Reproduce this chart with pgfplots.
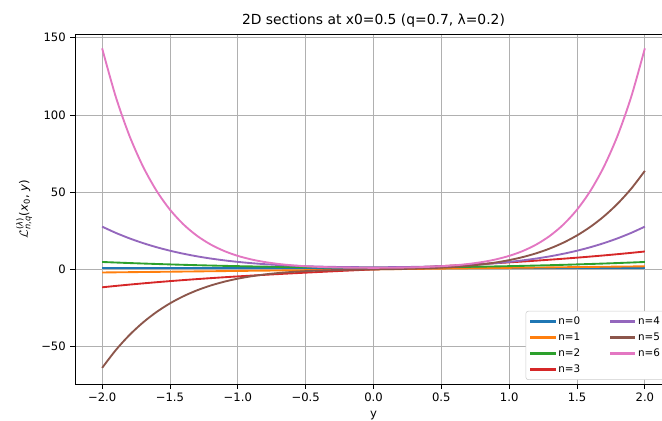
\documentclass[border=0pt]{standalone}
\usepackage{fontspec}
\setmainfont{DejaVu Sans}
\usepackage{pgfplots}
\usepackage{pgfplotstable}
\pgfplotsset{compat=1.18}
\definecolor{tabblue}{HTML}{1F77B4}
\definecolor{taborange}{HTML}{FF7F0E}
\definecolor{tabgreen}{HTML}{2CA02C}
\definecolor{tabred}{HTML}{D62728}
\definecolor{tabpurple}{HTML}{9467BD}
\definecolor{tabbrown}{HTML}{8C564B}
\definecolor{tabpink}{HTML}{E377C2}
\pgfplotstableread{
y p0 p1 p2 p3 p4 p5 p6
-2.0 1 -2.0 4.800 -11.600 27.692 -63.784 143.119
-1.9 1 -1.9 4.449 -10.709 23.664 -52.320 111.886
-1.8 1 -1.8 4.116 -9.865 20.136 -42.621 86.800
-1.7 1 -1.7 3.801 -9.067 17.060 -34.465 66.815
-1.6 1 -1.6 3.504 -8.312 14.393 -27.650 51.027
-1.5 1 -1.5 3.225 -7.598 12.094 -21.995 38.666
-1.4 1 -1.4 2.964 -6.920 10.125 -17.337 29.077
-1.3 1 -1.3 2.721 -6.279 8.448 -13.530 21.711
-1.2 1 -1.2 2.496 -5.670 7.031 -10.445 16.109
-1.1 1 -1.1 2.289 -5.091 5.842 -7.969 11.891
-1.0 1 -1.0 2.100 -4.540 4.853 -6.002 8.749
-0.9 1 -0.9 1.929 -4.014 4.037 -4.456 6.433
-0.8 1 -0.8 1.776 -3.511 3.370 -3.257 4.743
-0.7 1 -0.7 1.641 -3.028 2.832 -2.338 3.523
-0.6 1 -0.6 1.524 -2.563 2.403 -1.646 2.652
-0.5 1 -0.5 1.425 -2.113 2.068 -1.132 2.038
-0.4 1 -0.4 1.344 -1.675 1.813 -0.755 1.613
-0.3 1 -0.3 1.281 -1.247 1.626 -0.482 1.327
-0.2 1 -0.2 1.236 -0.827 1.498 -0.282 1.144
-0.1 1 -0.1 1.209 -0.412 1.424 -0.130 1.043
0.0 1 0.0 1.200 0.000 1.400 0.000 1.011
0.1 1 0.1 1.209 0.412 1.424 0.130 1.043
0.2 1 0.2 1.236 0.827 1.498 0.282 1.144
0.3 1 0.3 1.281 1.247 1.626 0.482 1.327
0.4 1 0.4 1.344 1.675 1.813 0.755 1.613
0.5 1 0.5 1.425 2.113 2.068 1.132 2.038
0.6 1 0.6 1.524 2.563 2.403 1.646 2.652
0.7 1 0.7 1.641 3.028 2.832 2.338 3.523
0.8 1 0.8 1.776 3.511 3.370 3.257 4.743
0.9 1 0.9 1.929 4.014 4.037 4.456 6.433
1.0 1 1.0 2.100 4.540 4.853 6.002 8.749
1.1 1 1.1 2.289 5.091 5.842 7.969 11.891
1.2 1 1.2 2.496 5.670 7.031 10.445 16.109
1.3 1 1.3 2.721 6.279 8.448 13.530 21.711
1.4 1 1.4 2.964 6.920 10.125 17.337 29.077
1.5 1 1.5 3.225 7.598 12.094 21.995 38.666
1.6 1 1.6 3.504 8.312 14.393 27.650 51.027
1.7 1 1.7 3.801 9.067 17.060 34.465 66.815
1.8 1 1.8 4.116 9.865 20.136 42.621 86.800
1.9 1 1.9 4.449 10.709 23.664 52.320 111.886
2.0 1 2.0 4.800 11.600 27.692 63.784 143.119
}\datatable
\begin{document}
\begin{tikzpicture}
\begin{axis}[
  at={(0,0)}, anchor=south west,
  scale only axis, width=447.75pt, height=262.5pt,
  xmin=-2.2, xmax=2.2, ymin=-74.2, ymax=152.4,
  xtick={-2,-1.5,-1,-0.5,0,0.5,1,1.5,2},
  xticklabels={−2.0,−1.5,−1.0,−0.5,0.0,0.5,1.0,1.5,2.0},
  ytick={-50,0,50,100,150},
  yticklabels={−50,0,50,100,150},
  tick pos=left, tick align=outside, major tick length=3.4pt,
  tick style={black, line width=0.6pt},
  axis line style={line width=0.6pt},
  grid=major, grid style={color=black!31, line width=0.6pt},
  ticklabel style={font=\fontsize{8.7}{10}\selectfont},
  label style={font=\fontsize{8.7}{10}\selectfont},
  title style={font=\fontsize{10.4}{12}\selectfont, yshift=-4.5pt},
  title={2D sections at x0=0.5 (q=0.7, λ=0.2)},
  xlabel={y},
  ylabel={$\mathcal{L}^{\mbox{\fontsize{6.2}{7}\selectfont(\textit{λ})}}_{\mbox{\fontsize{6.2}{7}\selectfont\textit{n},\textit{q}}}$(\textit{x}$_{\mbox{\fontsize{6.2}{7}\selectfont0}}$, \textit{y})},
  legend columns=2,
  legend cell align=left,
  legend style={at={(1,0)}, anchor=south east, xshift=-3.75pt, yshift=3pt,
    font=\fontsize{7.8}{9}\selectfont, draw=black!20, rounded corners=2pt,
    fill=white, row sep=0.8pt,
    /tikz/every even column/.append style={column sep=20pt}},
  every axis plot/.append style={line width=1.4pt},
]
\addplot[tabblue, smooth, forget plot] table[x=y, y=p0] {\datatable};
\addplot[taborange, smooth, forget plot] table[x=y, y=p1] {\datatable};
\addplot[tabgreen, smooth, forget plot] table[x=y, y=p2] {\datatable};
\addplot[tabred, smooth, forget plot] table[x=y, y=p3] {\datatable};
\addplot[tabpurple, smooth, forget plot] table[x=y, y=p4] {\datatable};
\addplot[tabbrown, smooth, forget plot] table[x=y, y=p5] {\datatable};
\addplot[tabpink, smooth, forget plot] table[x=y, y=p6] {\datatable};
\addlegendimage{legend image code/.code={\fill[tabblue, sharp corners] (2pt,-0.6pt) rectangle (20pt,0.6pt);}}\addlegendentry{n=0}
\addlegendimage{legend image code/.code={\fill[tabpurple, sharp corners] (2pt,-0.6pt) rectangle (20pt,0.6pt);}}\addlegendentry{n=4}
\addlegendimage{legend image code/.code={\fill[taborange, sharp corners] (2pt,-0.6pt) rectangle (20pt,0.6pt);}}\addlegendentry{n=1}
\addlegendimage{legend image code/.code={\fill[tabbrown, sharp corners] (2pt,-0.6pt) rectangle (20pt,0.6pt);}}\addlegendentry{n=5}
\addlegendimage{legend image code/.code={\fill[tabgreen, sharp corners] (2pt,-0.6pt) rectangle (20pt,0.6pt);}}\addlegendentry{n=2}
\addlegendimage{legend image code/.code={\fill[tabpink, sharp corners] (2pt,-0.6pt) rectangle (20pt,0.6pt);}}\addlegendentry{n=6}
\addlegendimage{legend image code/.code={\fill[tabred, sharp corners] (2pt,-0.6pt) rectangle (20pt,0.6pt);}}\addlegendentry{n=3}
\end{axis}
\pgfresetboundingbox
\path[use as bounding box] (-56.25pt,-27.75pt) rectangle (440.25pt,288pt);
\end{tikzpicture}
\end{document}
